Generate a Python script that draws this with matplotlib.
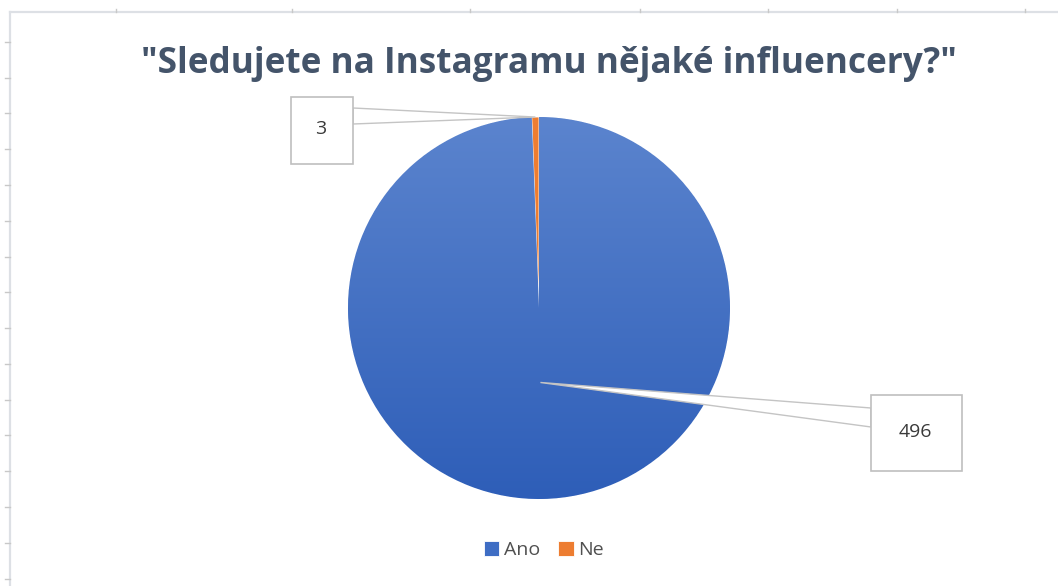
import matplotlib.pyplot as plt
import numpy as np
from matplotlib.patches import Rectangle, Polygon

# data
labels = ['Ano', 'Ne']
values = [496, 3]
colors = ['#3E6DC4', '#ED7D31']
title = '"Sledujete na Instagramu nějaké influencery?"'

W, H = 1058, 586
plt.rcParams['font.family'] = ['Open Sans', 'DejaVu Sans']

fig = plt.figure(figsize=(W / 100, H / 100), dpi=100)
fig.patch.set_facecolor('white')
ax = fig.add_axes([0, 0, 1, 1])

cx, cy, r = 539, H - 308, 191
wedges, _ = ax.pie(values, colors=colors, startangle=90, counterclock=False,
                   center=(cx, cy), radius=r,
                   wedgeprops=dict(linewidth=0.6, edgecolor='white'))

# gradient fill on the big slice (Excel style)
top = np.array([0x5B, 0x84, 0xCE]) / 255
bot = np.array([0x2E, 0x5E, 0xB8]) / 255
t = np.linspace(0, 1, 256)[:, None, None]
grad = top * (1 - t) + bot * t
im = ax.imshow(grad, extent=[cx - r, cx + r, cy - r, cy + r], origin='upper',
               aspect='auto', zorder=wedges[0].get_zorder() + 0.1)
im.set_clip_path(wedges[0])

ax.set_xlim(0, W)
ax.set_ylim(0, H)
ax.set_aspect('auto')
ax.axis('off')

# sheet border + ticks behind chart
bc = '#DDE0E5'
ax.plot([10, W], [H - 12, H - 12], color=bc, lw=1.6, zorder=0)
ax.plot([10, 10], [0, H - 12], color=bc, lw=1.6, zorder=0)
for x in [116, 292, 470, 640, 768, 897, 1025]:
    ax.plot([x, x], [H - 9, H - 12], color='#C8C8C8', lw=1, zorder=0)
for k in range(16):
    y = 41.7 + 35.8 * k
    ax.plot([5, 10], [H - y, H - y], color='#C8C8C8', lw=1, zorder=0)

# callouts: box (x0, y0, x1, y1 in image px), leader attach y range, radius fraction of tip
boxes = [(871, 395, 962, 471), (291, 97, 353, 164)]
attach = [(408, 427), (108, 124)]
tipfrac = [0.39, 1.0]
for w, v, (x0, y0, x1, y1), (a0, a1), f in zip(wedges, values, boxes, attach, tipfrac):
    ang = np.deg2rad((w.theta1 + w.theta2) / 2)
    tx, ty = cx + f * r * np.cos(ang), cy + f * r * np.sin(ang)
    ex = x0 if x0 > cx else x1
    ax.add_patch(Polygon([(tx, ty), (ex, H - a0), (ex, H - a1)], closed=True,
                         facecolor='white', edgecolor='#C4C4C4', lw=1, zorder=5))
    ax.add_patch(Rectangle((x0, H - y1), x1 - x0, y1 - y0, facecolor='white',
                           edgecolor='#BFBFBF', lw=1.2, zorder=6))
    ax.text((x0 + x1) / 2 - 1, H - (y0 + y1) / 2 + 1, str(v), ha='center', va='center',
            fontsize=14, color='#3A3A3A', zorder=7)

ax.text(549, H - 64, title, ha='center', va='center', fontsize=25.3,
        fontweight='bold', color='#44546A')

leg = fig.legend(wedges, labels, loc='center', bbox_to_anchor=(544 / W, 1 - 550 / H),
                 ncol=2, frameon=False, fontsize=14, handlelength=0.8,
                 handleheight=0.8, handletextpad=0.25, columnspacing=0.9,
                 labelcolor='#505050')
leg.legend_handles[0].set_facecolor('#3E6DC4')

fig.savefig('out.png', dpi=100)
